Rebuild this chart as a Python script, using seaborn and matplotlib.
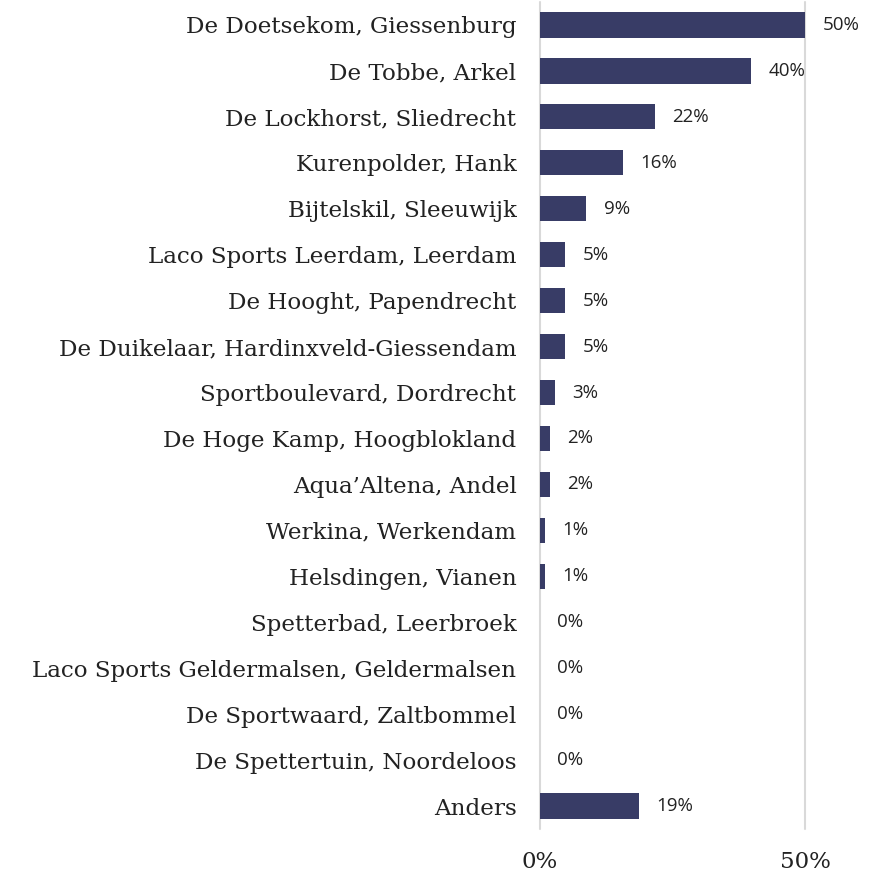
import matplotlib
matplotlib.use("Agg")
import matplotlib.pyplot as plt
import pandas as pd
import seaborn as sns

LOCATIONS = [
    "De Doetsekom, Giessenburg",
    "De Tobbe, Arkel",
    "De Lockhorst, Sliedrecht",
    "Kurenpolder, Hank",
    "Bijtelskil, Sleeuwijk",
    "Laco Sports Leerdam, Leerdam",
    "De Hooght, Papendrecht",
    "De Duikelaar, Hardinxveld-Giessendam",
    "Sportboulevard, Dordrecht",
    "De Hoge Kamp, Hoogblokland",
    "Aqua\u2019Altena, Andel",
    "Werkina, Werkendam",
    "Helsdingen, Vianen",
    "Spetterbad, Leerbroek",
    "Laco Sports Geldermalsen, Geldermalsen",
    "De Sportwaard, Zaltbommel",
    "De Spettertuin, Noordeloos",
    "Anders",
]
SHARES = [50, 39.8, 21.7, 15.7, 8.7, 4.8, 4.8, 4.8, 2.8, 1.9, 1.9, 0.9, 0.9,
          0, 0, 0, 0, 18.7]
XTICKS = [0, 50]

BAR_COLOR = "#383c66"

df = pd.DataFrame({"location": LOCATIONS, "share": SHARES})

sns.set_theme(style="white")
plt.rcParams["font.family"] = ["DejaVu Serif"]

fig = plt.figure(figsize=(8.77, 8.73), dpi=100)
ax = fig.add_axes([540 / 877, 44 / 873, 318 / 877, 827 / 873])

sns.barplot(data=df, x="share", y="location", color=BAR_COLOR, width=0.55,
            saturation=1, ax=ax, zorder=3, edgecolor="none", linewidth=0)

ax.set_xlim(0, 60)
ax.set_ylim(len(LOCATIONS) - 0.5, -0.5)
ax.set_xticks(XTICKS)
ax.set_xticklabels([f"{t}%" for t in XTICKS], fontsize=16.5, color="#222222")
ax.tick_params(axis="x", length=0, pad=16)
ax.tick_params(axis="y", length=0, pad=17, labelsize=16.6, labelcolor="#222222")
ax.set_xlabel("")
ax.set_ylabel("")
for t in XTICKS:
    ax.axvline(t, color="#d9d9d9", lw=1.5, zorder=1, clip_on=False)
for s in ax.spines.values():
    s.set_visible(False)

for i, v in enumerate(SHARES):
    ax.text(v + 3.3, i, f"{round(v)}%", va="center", ha="left",
            fontsize=13.5, color="#222222", family="Open Sans")

fig.savefig("out.png", dpi=100)
